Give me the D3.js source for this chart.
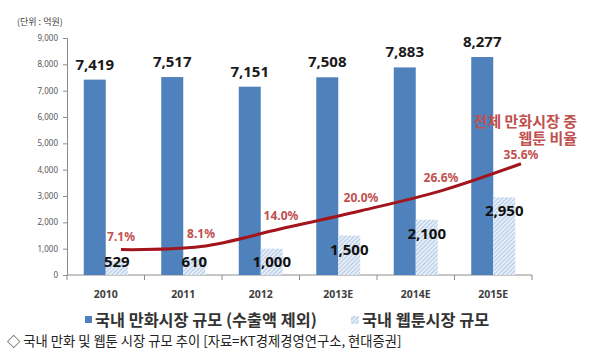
<!DOCTYPE html>
<html>
<head>
<meta charset="utf-8">
<script src="https://cdn.jsdelivr.net/npm/d3@7"></script>
<style>
  body { margin: 0; background: #fff; }
  text { font-family: "Noto Sans CJK KR", "Noto Sans", sans-serif; }
</style>
</head>
<body>
<script>
// 국내 만화 및 웹툰 시장 규모 (억원)
const years = ["2010", "2011", "2012", "2013E", "2014E", "2015E"]
const comicMarket = [7419, 7517, 7151, 7508, 7883, 8277]
const webtoonMarket = [529, 610, 1000, 1500, 2100, 2950]
const webtoonShare = [7.1, 8.1, 14.0, 20.0, 26.6, 35.6]
const yTicks = [0, 1000, 2000, 3000, 4000, 5000, 6000, 7000, 8000, 9000]

const width = 600, height = 354;
const barW = 22;

const svg = d3.select("body").append("svg")
    .attr("width", width)
    .attr("height", height);

// hatch pattern for the webtoon bars
const defs = svg.append("defs");
const pat = defs.append("pattern")
    .attr("id", "hatch")
    .attr("patternUnits", "userSpaceOnUse")
    .attr("width", 3)
    .attr("height", 3)
    .attr("patternTransform", "rotate(45)");
pat.append("rect").attr("width", 3).attr("height", 3).attr("fill", "#e6eef8");
pat.append("line")
    .attr("x1", 0).attr("y1", 0).attr("x2", 0).attr("y2", 3)
    .attr("stroke", "#8fb0da").attr("stroke-width", 1.2);

const x = d3.scaleBand().domain(years).range([67, 532]);
const y = d3.scaleLinear().domain([0, 9000]).range([275, 38]);
// secondary (hidden) scales for the share line
const xLine = d3.scalePoint().domain(years).range([121, 521]);
const yPct = d3.scaleLinear().domain([0, 78]).range([271, 36]);

// y axis
const yAxis = svg.append("g")
    .attr("transform", "translate(67,0)")
    .call(d3.axisLeft(y).tickValues(yTicks).tickSize(4).tickPadding(5)
        .tickFormat(d3.format(",")));
yAxis.select(".domain").attr("stroke", "#8c8c8c");
yAxis.selectAll(".tick line").attr("stroke", "#8c8c8c");
yAxis.selectAll("text")
    .attr("font-size", 8)
    .attr("fill", "#555")
    .style("font-family", "'Noto Sans', sans-serif");

// x axis: line + boundary ticks
const xg = svg.append("g");
xg.append("line")
    .attr("x1", x.range()[0]).attr("x2", x.range()[1])
    .attr("y1", y(0)).attr("y2", y(0))
    .attr("stroke", "#8c8c8c");
xg.selectAll(".bt")
    .data(years.concat(["end"]))
    .enter().append("line")
    .attr("x1", (d, i) => x.range()[0] + i * x.bandwidth())
    .attr("x2", (d, i) => x.range()[0] + i * x.bandwidth())
    .attr("y1", y(0)).attr("y2", y(0) + 5)
    .attr("stroke", "#8c8c8c");
xg.selectAll(".xl")
    .data(years)
    .enter().append("text")
    .attr("x", d => x(d) + x.bandwidth() / 2)
    .attr("y", 298)
    .attr("text-anchor", "middle")
    .attr("font-size", 10.5)
    .attr("font-weight", "bold")
    .attr("fill", "#404040")
    .style("font-family", "'Noto Sans', sans-serif")
    .text(d => d);

// bars
svg.selectAll(".comic")
    .data(comicMarket)
    .enter().append("rect")
    .attr("x", (d, i) => x(years[i]) + x.bandwidth() / 2 - barW)
    .attr("y", d => y(d))
    .attr("width", barW)
    .attr("height", d => y(0) - y(d))
    .attr("fill", "#4f81bd");

svg.selectAll(".webtoon")
    .data(webtoonMarket)
    .enter().append("rect")
    .attr("x", (d, i) => x(years[i]) + x.bandwidth() / 2)
    .attr("y", d => y(d))
    .attr("width", barW)
    .attr("height", d => y(0) - y(d))
    .attr("fill", "url(#hatch)");

// value labels
svg.selectAll(".cl")
    .data(comicMarket)
    .enter().append("text")
    .attr("x", (d, i) => x(years[i]) + x.bandwidth() / 2 - barW / 2)
    .attr("y", d => y(d) - 10)
    .attr("text-anchor", "middle")
    .attr("font-size", 15)
    .attr("font-weight", "bold")
    .attr("fill", "#1a1a1a")
    .style("font-family", "'Noto Sans', sans-serif")
    .text(d => d3.format(",")(d));

svg.selectAll(".wl")
    .data(webtoonMarket)
    .enter().append("text")
    .attr("x", (d, i) => x(years[i]) + x.bandwidth() / 2 + barW / 2)
    .attr("y", d => Math.min(267, y(d) + 19))
    .attr("text-anchor", "middle")
    .attr("font-size", 15)
    .attr("font-weight", "bold")
    .attr("fill", "#111")
    .style("font-family", "'Noto Sans', sans-serif")
    .text(d => d3.format(",")(d));

// share line
const line = d3.line()
    .x((d, i) => xLine(years[i]))
    .y(d => yPct(d))
    .curve(d3.curveCatmullRom.alpha(0.5));

svg.append("path")
    .attr("d", line(webtoonShare))
    .attr("fill", "none")
    .attr("stroke", "#a3151c")
    .attr("stroke-width", 3);

svg.selectAll(".pl")
    .data(webtoonShare)
    .enter().append("text")
    .attr("x", (d, i) => xLine(years[i]))
    .attr("y", (d, i) => yPct(d) - (i === webtoonShare.length - 1 ? 5 : 9))
    .attr("text-anchor", "middle")
    .attr("font-size", 12)
    .attr("font-weight", "bold")
    .attr("fill", "#c0504d")
    .style("font-family", "'Noto Sans', sans-serif")
    .text(d => d.toFixed(1) + "%");

// annotation
const ann = svg.append("text")
    .attr("text-anchor", "end")
    .attr("font-size", 15)
    .attr("font-weight", "bold")
    .attr("fill", "#c0504d");
ann.append("tspan").attr("x", 577).attr("y", 127).text("전체 만화시장 중");
ann.append("tspan").attr("x", 577).attr("y", 144).text("웹툰 비율");

// unit
svg.append("text")
    .attr("x", 17).attr("y", 25)
    .attr("font-size", 9)
    .attr("fill", "#404040")
    .text("(단위 : 억원)");

// legend
svg.append("rect")
    .attr("x", 85).attr("y", 316)
    .attr("width", 7).attr("height", 7)
    .attr("fill", "#4f81bd");
svg.append("text")
    .attr("x", 95).attr("y", 326)
    .attr("font-size", 16.3)
    .attr("font-weight", "bold")
    .attr("fill", "#333")
    .text("국내 만화시장 규모 (수출액 제외)");
svg.append("rect")
    .attr("x", 351).attr("y", 316)
    .attr("width", 8).attr("height", 8)
    .attr("fill", "url(#hatch)");
svg.append("text")
    .attr("x", 362).attr("y", 326)
    .attr("font-size", 16.3)
    .attr("font-weight", "bold")
    .attr("fill", "#333")
    .text("국내 웹툰시장 규모");

// caption
svg.append("text")
    .attr("x", 7).attr("y", 346)
    .attr("font-size", 13.3)
    .attr("fill", "#222")
    .text("◇ 국내 만화 및 웹툰 시장 규모 추이 [자료=KT경제경영연구소, 현대증권]");
</script>
</body>
</html>
